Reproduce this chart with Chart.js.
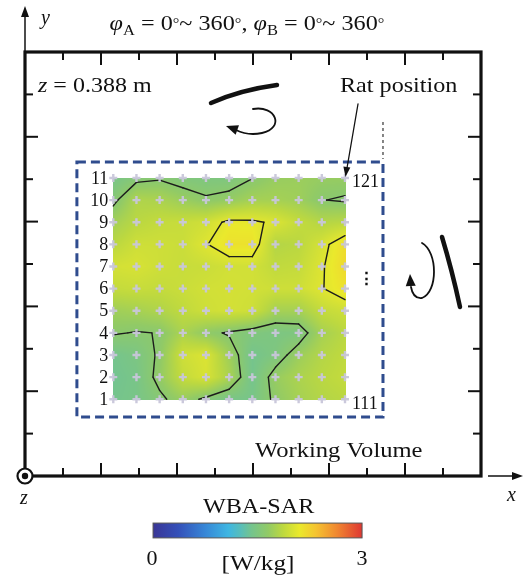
<!DOCTYPE html>
<html><head><meta charset="utf-8">
<script src="https://cdn.jsdelivr.net/npm/chart.js@4.4.1/dist/chart.umd.min.js"></script>
<style>html,body{margin:0;padding:0;background:#fff;}canvas{display:block;}</style>
</head><body>
<canvas id="c" width="523" height="576"></canvas>
<script>
// ---------- DATA ----------
const colIdx = [1,2,3,4,5,6,7,8,9,10,11];
const rowIdx = [1,2,3,4,5,6,7,8,9,10,11];
const rowLabels = ['1','2','3','4','5','6','7','8','9','10','11'];
const cornerLabels = ['111','121'];
// WBA-SAR [W/kg] read at each measurement point, row 1 (bottom) .. row 11 (top), columns 1..11
const sarRow1  = [1.42,1.45,1.56,1.69,1.56,1.45,1.45,1.64,1.75,1.82,1.85];
const sarRow2  = [1.40,1.45,1.66,1.90,2.00,1.78,1.42,1.68,1.78,1.85,1.90];
const sarRow3  = [1.42,1.48,1.63,1.95,2.02,1.72,1.42,1.50,1.70,1.82,1.88];
const sarRow4  = [1.617,1.59,1.605,1.78,1.647,1.58,1.52,1.48,1.50,1.75,1.85];
const sarRow5  = [1.72,1.75,1.80,1.88,1.95,1.98,1.95,1.75,1.75,1.90,1.95];
const sarRow6  = [1.90,1.92,1.90,1.93,1.97,1.98,1.97,1.95,1.95,2.04,2.15];
const sarRow7  = [1.98,2.00,1.95,1.92,1.93,1.97,1.97,1.88,1.90,2.03,2.20];
const sarRow8  = [1.85,1.95,1.95,1.93,2.04,2.15,2.15,1.82,1.85,1.99,2.18];
const sarRow9  = [1.74,1.85,1.90,1.92,1.96,2.09,2.08,2.02,1.90,1.82,1.85];
const sarRow10 = [1.55,1.80,1.78,1.70,1.625,1.67,1.75,1.75,1.72,1.605,1.58];
const sarRow11 = [1.45,1.55,1.58,1.52,1.50,1.50,1.595,1.68,1.70,1.68,1.68];
const contourLevels = [1.6, 2.05];
const colorbarRange = [0, 3];
const colorbarTickLabels = ['0','3'];

const sar = [sarRow1,sarRow2,sarRow3,sarRow4,sarRow5,sarRow6,sarRow7,sarRow8,sarRow9,sarRow10,sarRow11];

// ---------- colormap ----------
const cmapStops = [
 [0.00,[58,54,150]],[0.12,[52,80,185]],[0.25,[55,135,215]],[0.36,[62,182,226]],
 [0.42,[88,190,185]],[0.47,[116,196,142]],[0.55,[145,202,102]],[0.62,[188,216,64]],[0.70,[234,233,44]],
 [0.78,[245,195,48]],[0.88,[240,135,48]],[1.00,[222,55,50]]
];
function cmap(t){
  t=Math.max(0,Math.min(1,t));
  for(let i=1;i<cmapStops.length;i++){
    if(t<=cmapStops[i][0]){
      const a=cmapStops[i-1],b=cmapStops[i],f=(t-a[0])/(b[0]-a[0]);
      return [0,1,2].map(k=>Math.round(a[1][k]+(b[1][k]-a[1][k])*f));
    }
  }
  return cmapStops[cmapStops.length-1][1];
}
function sampleField(gc,gr){ // gc,gr in 0..10
  gc=Math.max(0,Math.min(10,gc)); gr=Math.max(0,Math.min(10,gr));
  const c=Math.min(9,Math.floor(gc)), r=Math.min(9,Math.floor(gr));
  const fc=gc-c, fr=gr-r;
  const v00=sar[r][c],v01=sar[r][c+1],v10=sar[r+1][c],v11=sar[r+1][c+1];
  return (v00*(1-fc)+v01*fc)*(1-fr)+(v10*(1-fc)+v11*fc)*fr;
}
function contourSegments(level){
  const segs=[];
  for(let r=0;r<10;r++)for(let c=0;c<10;c++){
    const a=sar[r][c],b=sar[r][c+1],cc=sar[r+1][c+1],d=sar[r+1][c];
    const pt=(v1,v2,p1,p2)=>{const t=(level-v1)/(v2-v1);return [p1[0]+(p2[0]-p1[0])*t,p1[1]+(p2[1]-p1[1])*t];};
    const A=[c+1,r+1],B=[c+2,r+1],C=[c+2,r+2],D=[c+1,r+2];
    const e={};
    if((a>level)!==(b>level)) e.bottom=pt(a,b,A,B);
    if((b>level)!==(cc>level)) e.right=pt(b,cc,B,C);
    if((d>level)!==(cc>level)) e.top=pt(d,cc,D,C);
    if((a>level)!==(d>level)) e.left=pt(a,d,A,D);
    const k=Object.keys(e);
    if(k.length===2) segs.push([e[k[0]],e[k[1]]]);
    else if(k.length===4){
      const m=(a+b+cc+d)/4;
      if((m>level)===(a>level)){segs.push([e.bottom,e.right]);segs.push([e.top,e.left]);}
      else {segs.push([e.bottom,e.left]);segs.push([e.right,e.top]);}
    }
  }
  return segs;
}

const SERIF='"Liberation Serif","DejaVu Serif",serif';
// draws text runs; sx = horizontal stretch of the lettering
function drawRuns(ctx,runs,x,y,align,sx){
  sx=sx||1;
  let total=0;
  runs.forEach(r=>{ctx.font=`${r.style||''} ${r.size}px ${SERIF}`;r.w=ctx.measureText(r.t).width;total+=r.w;});
  ctx.save();
  const start = align==='center'? x-total*sx/2 : x;
  ctx.translate(start,y); ctx.scale(sx,1);
  let cx=0;
  ctx.textAlign='left'; ctx.textBaseline='alphabetic';
  runs.forEach(r=>{ctx.font=`${r.style||''} ${r.size}px ${SERIF}`;ctx.fillText(r.t,cx,(r.dy||0));cx+=r.w;});
  ctx.restore();
}
function arrowHead(ctx,tip,from,len,half){
  const ang=Math.atan2(tip[1]-from[1],tip[0]-from[0]);
  ctx.beginPath();
  ctx.moveTo(tip[0],tip[1]);
  ctx.lineTo(tip[0]-len*Math.cos(ang)+half*Math.sin(ang),tip[1]-len*Math.sin(ang)-half*Math.cos(ang));
  ctx.lineTo(tip[0]-len*Math.cos(ang)-half*Math.sin(ang),tip[1]-len*Math.sin(ang)+half*Math.cos(ang));
  ctx.closePath(); ctx.fill();
}

const fieldPlugin={
  id:'field',
  beforeDatasetsDraw(chart){
    const ctx=chart.ctx,xs=chart.scales.x,ys=chart.scales.y;
    const x0=Math.round(xs.getPixelForValue(colIdx[0])),x1=Math.round(xs.getPixelForValue(colIdx[10]));
    const y0=Math.round(ys.getPixelForValue(rowIdx[10])),y1=Math.round(ys.getPixelForValue(rowIdx[0]));
    const w=x1-x0+1,h=y1-y0+1;
    const img=ctx.createImageData(w,h);
    for(let py=0;py<h;py++){
      const gr=ys.getValueForPixel(y0+py+0.5)-1;
      for(let px=0;px<w;px++){
        const gc=xs.getValueForPixel(x0+px+0.5)-1;
        const v=sampleField(gc,gr);
        const col=cmap((v-colorbarRange[0])/(colorbarRange[1]-colorbarRange[0]));
        const i=(py*w+px)*4;
        img.data[i]=col[0];img.data[i+1]=col[1];img.data[i+2]=col[2];img.data[i+3]=255;
      }
    }
    ctx.putImageData(img,x0,y0);
    // contours
    ctx.save();
    ctx.strokeStyle='#1c1c1c'; ctx.lineWidth=1.4; ctx.lineCap='round';
    contourLevels.forEach(L=>{
      contourSegments(L).forEach(s=>{
        ctx.beginPath();
        ctx.moveTo(xs.getPixelForValue(s[0][0]),ys.getPixelForValue(s[0][1]));
        ctx.lineTo(xs.getPixelForValue(s[1][0]),ys.getPixelForValue(s[1][1]));
        ctx.stroke();
      });
    });
    ctx.restore();
  },
  afterDraw(chart){
    const ctx=chart.ctx,xs=chart.scales.x,ys=chart.scales.y,fx=chart.scales.fx,fy=chart.scales.fy;
    const ca=chart.chartArea;
    ctx.save();
    // frame
    ctx.strokeStyle='#111'; ctx.fillStyle='#111';
    ctx.lineWidth=3.2;
    ctx.strokeRect(ca.left,ca.top,ca.right-ca.left,ca.bottom-ca.top);
    ctx.lineWidth=2;
    for(let i=1;i<12;i++){
      const p=fx.getPixelForValue(i),L=i%2===0?13:8;
      ctx.beginPath();ctx.moveTo(p,ca.top);ctx.lineTo(p,ca.top+L);ctx.stroke();
      ctx.beginPath();ctx.moveTo(p,ca.bottom);ctx.lineTo(p,ca.bottom-L);ctx.stroke();
    }
    for(let i=1;i<10;i++){
      const p=fy.getPixelForValue(i),L=i%2===0?13:8;
      ctx.beginPath();ctx.moveTo(ca.left,p);ctx.lineTo(ca.left+L,p);ctx.stroke();
      ctx.beginPath();ctx.moveTo(ca.right,p);ctx.lineTo(ca.right-L,p);ctx.stroke();
    }
    // axis arrows
    ctx.lineWidth=1.5;
    ctx.beginPath();ctx.moveTo(ca.left,ca.top);ctx.lineTo(ca.left,14);ctx.stroke();
    arrowHead(ctx,[ca.left,6],[ca.left,20],11,4);
    ctx.beginPath();ctx.moveTo(ca.right+7,ca.bottom);ctx.lineTo(514,ca.bottom);ctx.stroke();
    arrowHead(ctx,[523,ca.bottom],[510,ca.bottom],11,4);
    // origin z symbol
    ctx.fillStyle='#fff';ctx.lineWidth=2.2;
    ctx.beginPath();ctx.arc(ca.left,ca.bottom,7.5,0,Math.PI*2);ctx.fill();ctx.stroke();
    ctx.fillStyle='#111';ctx.beginPath();ctx.arc(ca.left,ca.bottom,3.2,0,Math.PI*2);ctx.fill();

    // working volume box (dashed blue)
    ctx.strokeStyle='#2f4c8e';ctx.lineWidth=3;ctx.setLineDash([9,5]);
    const bx0=xs.getPixelForValue(-0.57),bx1=xs.getPixelForValue(12.64),by0=ys.getPixelForValue(11.72),by1=ys.getPixelForValue(0.2);
    ctx.strokeRect(bx0,by0,bx1-bx0,by1-by0);
    ctx.strokeStyle='#444';ctx.lineWidth=1.3;ctx.setLineDash([3,3]);
    ctx.beginPath();ctx.moveTo(bx1,122);ctx.lineTo(bx1,by0-3);ctx.stroke();
    ctx.setLineDash([]);

    // antenna symbols
    ctx.strokeStyle='#111';ctx.fillStyle='#111';ctx.lineCap='round';
    ctx.lineWidth=4.5;
    ctx.beginPath();ctx.moveTo(211,103);ctx.quadraticCurveTo(240,90,277,85);ctx.stroke();
    ctx.lineWidth=1.8;
    ctx.beginPath();ctx.moveTo(253,109);ctx.bezierCurveTo(276,105,285,128,262,133);ctx.quadraticCurveTo(248,136,236,130);ctx.stroke();
    arrowHead(ctx,[226,126],[240,131],12,5);
    ctx.lineWidth=4.5;
    ctx.beginPath();ctx.moveTo(442,237);ctx.quadraticCurveTo(452,270,460,307);ctx.stroke();
    ctx.lineWidth=1.8;
    ctx.beginPath();ctx.moveTo(422,243);ctx.bezierCurveTo(438,252,438,292,422,298);ctx.quadraticCurveTo(413,299,411,287);ctx.stroke();
    arrowHead(ctx,[410,274],[411,290],12,5);
    // rat position arrow
    ctx.lineWidth=1.3;
    ctx.beginPath();ctx.moveTo(358,104);ctx.lineTo(347,168);ctx.stroke();
    arrowHead(ctx,[345.5,177],[347,166],10,3.5);

    // texts
    ctx.fillStyle='#111';
    drawRuns(ctx,[
      {t:'φ',size:22,style:'italic'},{t:'A',size:15,dy:5},{t:' = 0',size:22},{t:'°',size:15,dy:-2},{t:'~ 360',size:22},{t:'°',size:15,dy:-2},{t:', ',size:22},
      {t:'φ',size:22,style:'italic'},{t:'B',size:15,dy:5},{t:' = 0',size:22},{t:'°',size:15,dy:-2},{t:'~ 360',size:22},{t:'°',size:15,dy:-2}],247,30,'center',1.1);
    drawRuns(ctx,[{t:'y',size:20,style:'italic'}],41,24,'left');
    drawRuns(ctx,[{t:'z',size:20,style:'italic'},{t:' = 0.388 m',size:20}],38,92,'left',1.2);
    drawRuns(ctx,[{t:'Rat position',size:21}],340,92,'left',1.15);
    drawRuns(ctx,[{t:'Working Volume',size:21}],255,457,'left',1.17);
    drawRuns(ctx,[{t:'x',size:20,style:'italic'}],507,501,'left');
    drawRuns(ctx,[{t:'z',size:20,style:'italic'}],20,504,'left');

    // row labels
    ctx.font=`18px ${SERIF}`;ctx.textAlign='right';ctx.textBaseline='middle';
    rowIdx.forEach((r,i)=>ctx.fillText(rowLabels[i],xs.getPixelForValue(colIdx[0])-5,ys.getPixelForValue(r)+1));
    ctx.textAlign='left';
    ctx.fillText(cornerLabels[1],xs.getPixelForValue(colIdx[10])+7,ys.getPixelForValue(rowIdx[10])+4);
    ctx.fillText(cornerLabels[0],xs.getPixelForValue(colIdx[10])+7,ys.getPixelForValue(rowIdx[0])+5);
    ctx.font=`bold 17px "DejaVu Serif",serif`;ctx.textAlign='center';
    ctx.fillText('⋮',366,280);

    // colorbar
    const cbx0=fx.getPixelForValue(3.37),cbx1=fx.getPixelForValue(8.87),cby0=fy.getPixelForValue(-1.11),cby1=fy.getPixelForValue(-1.46);
    const g=ctx.createLinearGradient(cbx0,0,cbx1,0);
    cmapStops.forEach(s=>g.addColorStop(s[0],`rgb(${s[1].join(',')})`));
    ctx.fillStyle=g;ctx.fillRect(cbx0,cby0,cbx1-cbx0,cby1-cby0);
    ctx.strokeStyle='#555';ctx.lineWidth=1;ctx.strokeRect(cbx0,cby0,cbx1-cbx0,cby1-cby0);
    ctx.fillStyle='#111';
    drawRuns(ctx,[{t:'WBA-SAR',size:21}],(cbx0+cbx1)/2+1,513,'center',1.15);
    drawRuns(ctx,[{t:colorbarTickLabels[0],size:22}],cbx0-1,565,'center');
    drawRuns(ctx,[{t:colorbarTickLabels[1],size:22}],cbx1,565,'center');
    drawRuns(ctx,[{t:'[W/kg]',size:22}],258,570,'center',1.15);
    ctx.restore();
  }
};

const markerData=[];
rowIdx.forEach(r=>colIdx.forEach(c=>markerData.push({x:c,y:r})));

new Chart(document.getElementById('c'),{
  type:'scatter',
  data:{datasets:[{data:markerData,pointStyle:'cross',pointRadius:4,pointBorderWidth:2.4,
    borderColor:'rgba(200,198,218,0.95)',backgroundColor:'rgba(200,198,218,0.95)',pointHoverRadius:4}]},
  options:{
    responsive:false,animation:false,events:[],
    layout:{padding:{left:25,top:52,right:42,bottom:100}},
    plugins:{legend:{display:false},tooltip:{enabled:false},title:{display:false}},
    scales:{
      x:{type:'linear',min:-2.81,max:16.87,display:false},
      y:{type:'linear',min:-2.466,max:16.69,display:false},
      fx:{type:'linear',axis:'x',min:0,max:12,display:false},
      fy:{type:'linear',axis:'y',min:0,max:10,display:false}
    }
  },
  plugins:[fieldPlugin]
});
</script>
</body></html>
